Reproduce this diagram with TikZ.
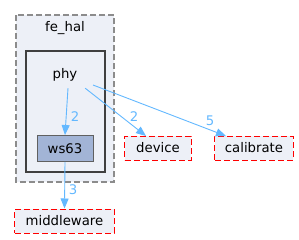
\documentclass[tikz,border=0pt]{standalone}
\usepackage{fontspec}
\setmainfont{DejaVu Sans}
\usetikzlibrary{arrows.meta,positioning}
\definecolor{clusterfill}{HTML}{EDF0F7}
\definecolor{clusterline}{HTML}{8C8C8C}
\definecolor{phyline}{HTML}{404040}
\definecolor{dirfill}{HTML}{A2B4D6}
\definecolor{dirline}{HTML}{606060}
\definecolor{extline}{HTML}{FF0000}
\definecolor{edgecol}{HTML}{63B8FF}
\tikzset{
  longdash/.style={dash pattern=on 6bp off 3bp},
  extdir/.style={draw=extline,longdash,fill=clusterfill,line width=1bp,
    minimum height=24bp,inner sep=0pt},
  dep/.style={edgecol,line width=0.9bp,-{Triangle[length=10bp,width=8bp]}},
  deplabel/.style={text=edgecol,inner sep=1bp}
}

\begin{document}
\begin{tikzpicture}[x=1bp,y=-1bp,font=\fontsize{13.3}{15}\selectfont]
    \useasboundingbox (0,0) rectangle (299,240);
    % clusters
    \fill[clusterfill] (16,15) rectangle (114,182);
    \draw[clusterline,longdash,line width=1.1bp] (16,15) rectangle (114,182);
    \fill[clusterfill] (26,51) rectangle (105,172);
    \draw[phyline,line width=2.2bp] (26,51) rectangle (105,172);
    \node (fehal) at (65,28) {fe\_hal};
    \node[minimum width=40bp,minimum height=26bp,inner sep=0pt] (phy) at (65,75) {phy};
    % directories
    \node[draw=dirline,fill=dirfill,line width=0.9bp,minimum width=56bp,
      minimum height=26bp,inner sep=0pt] (ws63) at (65,148.5) {ws63};
    \node[extdir,minimum width=66bp] (device) at (158,148) {device};
    \node[extdir,minimum width=78bp] (calibrate) at (254,148) {calibrate};
    \node[extdir,minimum width=99bp] (middleware) at (64.5,221) {middleware};
    % dependencies
    \coordinate (devin) at (146,136);
    \coordinate (calin) at (226,136);
    \coordinate (phyout) at (93,85);
    \draw[dep] ([xshift=3bp]phy.south) -- (ws63.north);
    \draw[dep] (phy.south east) -- (devin);
    \draw[dep] (phyout) -- (calin);
    \draw[dep] (ws63.south) -- (middleware.north);
    \node[deplabel] (l1) at (75,117) {2};
    \node[deplabel] (l2) at (134,117) {2};
    \node[deplabel] (l3) at (210,121) {5};
    \node[deplabel] (l4) at (73,190) {3};
  \end{tikzpicture}
\end{document}
